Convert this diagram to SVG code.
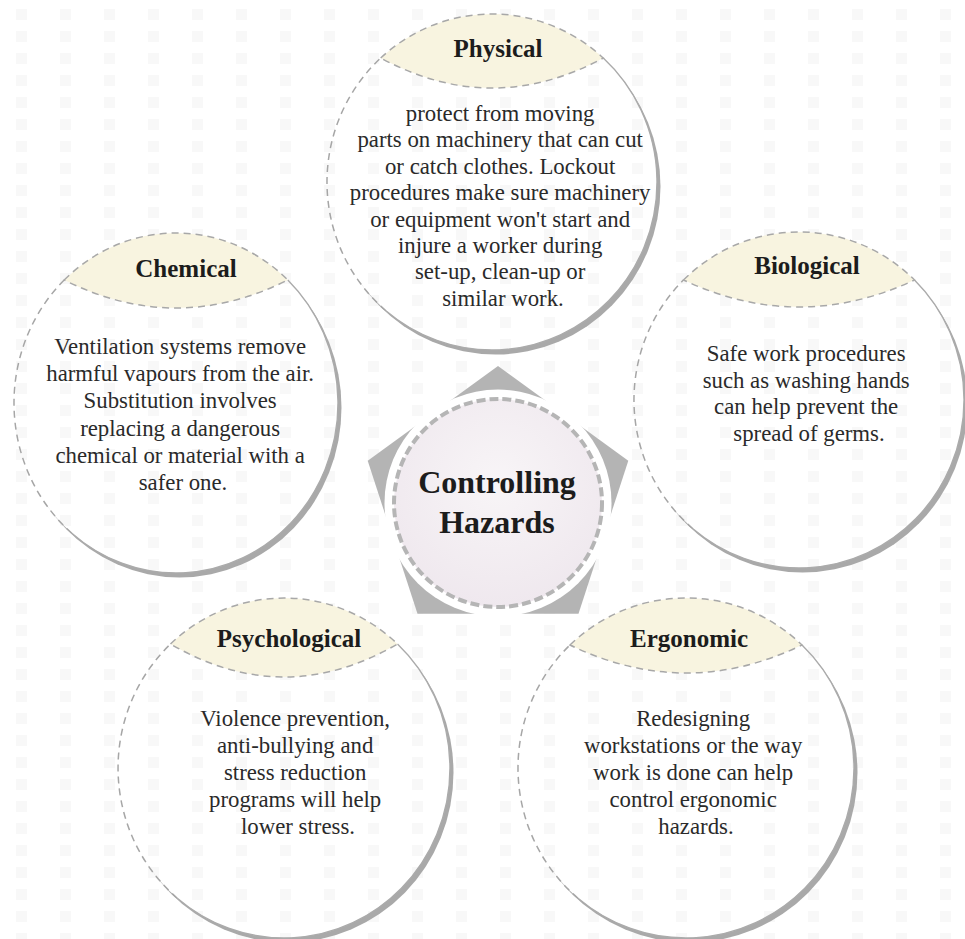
<svg xmlns="http://www.w3.org/2000/svg" width="965" height="939" viewBox="0 0 965 939">
  <defs>
    <!-- faint square grid used for the page and inside each disc -->
    <pattern id="dots" width="44" height="22" patternUnits="userSpaceOnUse">
      <rect width="44" height="22" fill="#ffffff"/>
      <rect x="16" y="9" width="11" height="11" fill="#f8f8f8"/>
    </pattern>
    <filter id="soft" x="-5%" y="-5%" width="110%" height="110%">
      <feGaussianBlur stdDeviation="0.5"/>
    </filter>
    <radialGradient id="hubFill" cx="50%" cy="40%" r="60%">
      <stop offset="0" stop-color="#f8f5f7"/>
      <stop offset="1" stop-color="#efe8ee"/>
    </radialGradient>
    <style>
      .shadow{fill:#a9a9a9;filter:url(#soft)}
      .disc{fill:url(#dots);stroke:none}
      .rim{fill:none;stroke:#ababab;stroke-width:1.4}
      .dash{fill:none;stroke:#a6a6a6;stroke-width:1.5;stroke-dasharray:7 5}
      .cap{fill:#f8f4e0;stroke:#a8a8a8;stroke-width:1.5;stroke-dasharray:7 5}
      .title{font-family:"Liberation Serif","Times New Roman",serif;font-weight:bold;font-size:25px;fill:#1c1c1c;text-anchor:middle}
      .body{font-family:"Liberation Serif","Times New Roman",serif;font-size:22.8px;fill:#2a2a2a;text-anchor:middle}
      .hubtext{font-family:"Liberation Serif","Times New Roman",serif;font-weight:bold;font-size:32px;fill:#1c1c1c;text-anchor:middle}
      .ring{fill:#b4b4b4}
    </style>
  </defs>

  <!-- page -->
  <rect width="965" height="939" fill="url(#dots)"/>

  <!-- central hub: pentagon corners around a dashed disc -->
  <g id="connectors">
    <polygon class="ring" points="498,366 628.3,460.7 578.5,613.8 417.5,613.8 367.7,460.7"/>
    <circle cx="498" cy="503" r="113.5" fill="#ffffff"/>
  </g>
  <g id="node-hub">
    <circle cx="498" cy="503" r="104" fill="url(#hubFill)" stroke="#b5b5b5" stroke-width="4" stroke-dasharray="9 4"/>
    <text class="hubtext" x="497" y="493">Controlling</text>
    <text class="hubtext" x="497" y="533">Hazards</text>
  </g>

  <!-- Physical -->
  <g id="node-physical">
    <ellipse class="shadow" cx="495.5" cy="186.5" rx="165" ry="168"/>
    <ellipse class="disc" cx="492" cy="182" rx="165" ry="168"/>
    <path class="rim" d="M603.3,58 A165,168 0 0 1 608.7,300.8 A165,168 0 0 1 385.9,310.7"/>
    <path class="dash" d="M385.9,310.7 A165,168 0 0 1 380.7,58"/>
    <path class="cap" d="M380.7,58 A165,168 0 0 1 603.3,58 Q492,118 380.7,58 Z"/>
    <text class="title" x="498" y="57">Physical</text>
    <text class="body">
      <tspan x="503" y="121">protect from moving</tspan>
      <tspan x="503" y="147.4">parts on machinery that can cut</tspan>
      <tspan x="503" y="173.8">or catch clothes. Lockout</tspan>
      <tspan x="503" y="200.2">procedures make sure machinery</tspan>
      <tspan x="503" y="226.6">or equipment won't start and</tspan>
      <tspan x="503" y="253">injure a worker during</tspan>
      <tspan x="503" y="279.4">set-up, clean-up or</tspan>
      <tspan x="503" y="305.8">similar work.</tspan>
    </text>
  </g>

  <!-- Chemical -->
  <g id="node-chemical">
    <ellipse class="shadow" cx="179.5" cy="407.5" rx="162" ry="170"/>
    <ellipse class="disc" cx="176" cy="403" rx="162" ry="170"/>
    <path class="rim" d="M287.8,280 A162,170 0 0 1 290.6,523.2 A162,170 0 0 1 71.8,533.2"/>
    <path class="dash" d="M71.8,533.2 A162,170 0 0 1 64.2,280"/>
    <path class="cap" d="M64.2,280 A162,170 0 0 1 287.8,280 Q176,336 64.2,280 Z"/>
    <text class="title" x="186" y="277">Chemical</text>
    <text class="body">
      <tspan x="183" y="354">Ventilation systems remove</tspan>
      <tspan x="183" y="381.2">harmful vapours from the air.</tspan>
      <tspan x="183" y="408.4">Substitution involves</tspan>
      <tspan x="183" y="435.6">replacing a dangerous</tspan>
      <tspan x="183" y="462.8">chemical or material with a</tspan>
      <tspan x="183" y="490">safer one.</tspan>
    </text>
  </g>

  <!-- Biological -->
  <g id="node-biological">
    <ellipse class="shadow" cx="802.5" cy="404.5" rx="165" ry="168"/>
    <ellipse class="disc" cx="799" cy="400" rx="165" ry="168"/>
    <path class="rim" d="M914.5,280 A165,168 0 0 1 915.7,518.8 A165,168 0 0 1 692.9,528.7"/>
    <path class="dash" d="M692.9,528.7 A165,168 0 0 1 683.5,280"/>
    <path class="cap" d="M683.5,280 A165,168 0 0 1 914.5,280 Q799,334 683.5,280 Z"/>
    <text class="title" x="807" y="274">Biological</text>
    <text class="body">
      <tspan x="809" y="361">Safe work procedures</tspan>
      <tspan x="809" y="387.7">such as washing hands</tspan>
      <tspan x="809" y="414.4">can help prevent the</tspan>
      <tspan x="809" y="441.1">spread of germs.</tspan>
    </text>
  </g>

  <!-- Psychological -->
  <g id="node-psychological">
    <ellipse class="shadow" cx="287.5" cy="772.5" rx="166" ry="170"/>
    <ellipse class="disc" cx="284" cy="768" rx="166" ry="170"/>
    <path class="rim" d="M397.5,644 A166,170 0 0 1 401.4,888.2 A166,170 0 0 1 177.3,898.2"/>
    <path class="dash" d="M177.3,898.2 A166,170 0 0 1 170.5,644"/>
    <path class="cap" d="M170.5,644 A166,170 0 0 1 397.5,644 Q284,710 170.5,644 Z"/>
    <text class="title" x="289" y="647">Psychological</text>
    <text class="body">
      <tspan x="298" y="726">Violence prevention,</tspan>
      <tspan x="298" y="752.9">anti-bullying and</tspan>
      <tspan x="298" y="779.8">stress reduction</tspan>
      <tspan x="298" y="806.7">programs will help</tspan>
      <tspan x="298" y="833.6">lower stress.</tspan>
    </text>
  </g>

  <!-- Ergonomic -->
  <g id="node-ergonomic">
    <ellipse class="shadow" cx="689.5" cy="772.5" rx="168" ry="170"/>
    <ellipse class="disc" cx="686" cy="768" rx="168" ry="170"/>
    <path class="rim" d="M802,645 A168,170 0 0 1 804.8,888.2 A168,170 0 0 1 578,898.2"/>
    <path class="dash" d="M578,898.2 A168,170 0 0 1 570,645"/>
    <path class="cap" d="M570,645 A168,170 0 0 1 802,645 Q686,701 570,645 Z"/>
    <text class="title" x="689" y="647">Ergonomic</text>
    <text class="body">
      <tspan x="696" y="726">Redesigning</tspan>
      <tspan x="696" y="752.9">workstations or the way</tspan>
      <tspan x="696" y="779.8">work is done can help</tspan>
      <tspan x="696" y="806.7">control ergonomic</tspan>
      <tspan x="696" y="833.6">hazards.</tspan>
    </text>
  </g>
</svg>
